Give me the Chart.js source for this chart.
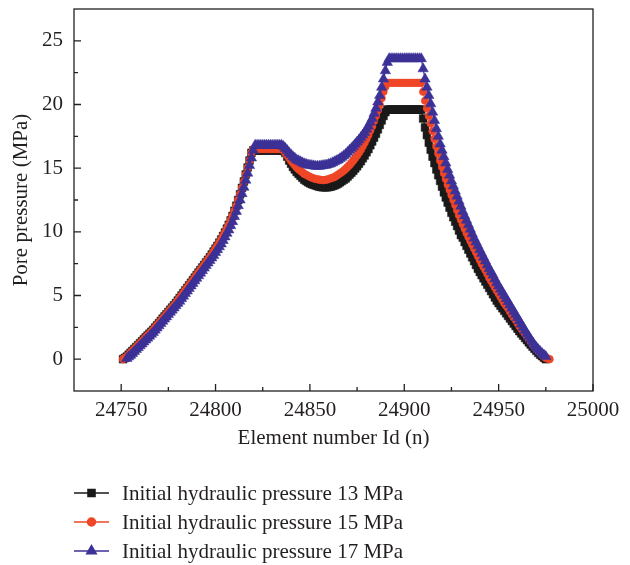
<!DOCTYPE html>
<html>
<head>
<meta charset="utf-8">
<title>Pore pressure</title>
<script src="https://cdn.jsdelivr.net/npm/chart.js@4.4.1/dist/chart.umd.min.js"></script>
<style>
  html, body { margin: 0; padding: 0; background: #fff; }
  #wrap { width: 630px; height: 565px; }
</style>
</head>
<body>
<div id="wrap"><canvas id="poreChart"></canvas></div>
<script>
// element ids along the section
const elementIds = [
  24751,24752,24753,24754,24755,24756,24757,24758,24759,24760,
  24761,24762,24763,24764,24765,24766,24767,24768,24769,24770,
  24771,24772,24773,24774,24775,24776,24777,24778,24779,24780,
  24781,24782,24783,24784,24785,24786,24787,24788,24789,24790,
  24791,24792,24793,24794,24795,24796,24797,24798,24799,24800,
  24801,24802,24803,24804,24805,24806,24807,24808,24809,24810,
  24811,24812,24813,24814,24815,24816,24817,24818,24819,24820,
  24821,24822,24823,24824,24825,24826,24827,24828,24829,24830,
  24831,24832,24833,24834,24835,24836,24837,24838,24839,24840,
  24841,24842,24843,24844,24845,24846,24847,24848,24849,24850,
  24851,24852,24853,24854,24855,24856,24857,24858,24859,24860,
  24861,24862,24863,24864,24865,24866,24867,24868,24869,24870,
  24871,24872,24873,24874,24875,24876,24877,24878,24879,24880,
  24881,24882,24883,24884,24885,24886,24887,24888,24889,24890,
  24891,24892,24893,24894,24895,24896,24897,24898,24899,24900,
  24901,24902,24903,24904,24905,24906,24907,24908,24909,24910,
  24911,24912,24913,24914,24915,24916,24917,24918,24919,24920,
  24921,24922,24923,24924,24925,24926,24927,24928,24929,24930,
  24931,24932,24933,24934,24935,24936,24937,24938,24939,24940,
  24941,24942,24943,24944,24945,24946,24947,24948,24949,24950,
  24951,24952,24953,24954,24955,24956,24957,24958,24959,24960,
  24961,24962,24963,24964,24965,24966,24967,24968,24969,24970,
  24971,24972,24973,24974,24975,24976,24977
];

// pore pressure (MPa), initial hydraulic pressure 13 MPa
const p13 = [
  0, 0.1, 0.2, 0.35, 0.5, 0.65, 0.8, 0.95, 1.1, 1.25,
  1.4, 1.55, 1.7, 1.85, 2.0, 2.15, 2.3, 2.48, 2.65, 2.82,
  3.0, 3.18, 3.35, 3.52, 3.7, 3.88, 4.05, 4.22, 4.4, 4.6,
  4.8, 5.0, 5.2, 5.4, 5.6, 5.8, 6.0, 6.2, 6.4, 6.6,
  6.8, 7.0, 7.2, 7.4, 7.6, 7.8, 8.0, 8.22, 8.45, 8.68,
  8.9, 9.15, 9.4, 9.68, 9.95, 10.25, 10.55, 10.9, 11.25, 11.65,
  12.05, 12.5, 12.95, 13.45, 13.95, 14.5, 15.05, 15.6, 16.2, 16.4,
  16.4, 16.4, 16.4, 16.4, 16.4, 16.4, 16.4, 16.4, 16.4, 16.4,
  16.4, 16.4, 16.4, 16.4, 16.4, 16.35, 16.2, 15.9, 15.6, 15.35,
  15.1, 14.9, 14.7, 14.55, 14.4, 14.25, 14.1, 14.0, 13.9, 13.82,
  13.75, 13.7, 13.65, 13.6, 13.55, 13.52, 13.5, 13.5, 13.5, 13.52,
  13.55, 13.6, 13.65, 13.72, 13.8, 13.9, 14.0, 14.1, 14.2, 14.35,
  14.5, 14.65, 14.8, 14.98, 15.15, 15.35, 15.55, 15.78, 16.0, 16.25,
  16.5, 16.8, 17.1, 17.4, 17.7, 18.05, 18.4, 18.75, 19.1, 19.4,
  19.6, 19.6, 19.6, 19.6, 19.6, 19.6, 19.6, 19.6, 19.6, 19.6,
  19.6, 19.6, 19.6, 19.6, 19.6, 19.6, 19.6, 19.6, 19.6, 18.9,
  18.2, 17.6, 17.0, 16.45, 15.9, 15.4, 14.9, 14.45, 14.0, 13.55,
  13.1, 12.7, 12.3, 11.9, 11.5, 11.15, 10.8, 10.45, 10.1, 9.75,
  9.55, 9.2, 8.9, 8.6, 8.3, 8.0, 7.7, 7.4, 7.1, 6.85,
  6.6, 6.35, 6.1, 5.85, 5.6, 5.35, 5.1, 4.85, 4.6, 4.4,
  4.2, 4.0, 3.8, 3.6, 3.4, 3.2, 3.0, 2.8, 2.6, 2.4,
  2.2, 2.02, 1.85, 1.67, 1.5, 1.32, 1.15, 0.98, 0.82, 0.66,
  0.5, 0.36, 0.24, 0.12, 0.0, null, null
];

// initial hydraulic pressure 15 MPa
const p15 = [
  0, 0.1, 0.2, 0.35, 0.5, 0.65, 0.8, 0.95, 1.1, 1.25,
  1.4, 1.55, 1.7, 1.85, 2.0, 2.15, 2.3, 2.48, 2.65, 2.82,
  3.0, 3.18, 3.35, 3.52, 3.7, 3.88, 4.05, 4.22, 4.4, 4.6,
  4.8, 5.0, 5.2, 5.4, 5.6, 5.8, 6.0, 6.2, 6.4, 6.6,
  6.8, 7.0, 7.2, 7.4, 7.6, 7.8, 8.0, 8.22, 8.45, 8.68,
  8.9, 9.15, 9.4, 9.68, 9.95, 10.25, 10.55, 10.9, 11.25, 11.65,
  12.05, 12.5, 12.95, 13.45, 13.95, 14.5, 15.05, 15.6, 16.2, 16.5,
  16.5, 16.5, 16.5, 16.5, 16.5, 16.5, 16.5, 16.5, 16.5, 16.5,
  16.5, 16.5, 16.5, 16.5, 16.5, 16.4, 16.2, 16.0, 15.8, 15.6,
  15.4, 15.22, 15.05, 14.92, 14.8, 14.68, 14.55, 14.48, 14.4, 14.32,
  14.25, 14.2, 14.15, 14.12, 14.1, 14.08, 14.05, 14.08, 14.1, 14.15,
  14.2, 14.25, 14.3, 14.4, 14.5, 14.6, 14.7, 14.82, 14.95, 15.1,
  15.25, 15.42, 15.6, 15.8, 16.0, 16.22, 16.45, 16.72, 17.0, 17.3,
  17.6, 17.95, 18.3, 18.7, 19.1, 19.55, 20.0, 20.5, 21.0, 21.4,
  21.7, 21.7, 21.7, 21.7, 21.7, 21.7, 21.7, 21.7, 21.7, 21.7,
  21.7, 21.7, 21.7, 21.7, 21.7, 21.7, 21.7, 21.7, 21.7, 21.0,
  20.3, 19.7, 19.1, 18.5, 17.9, 17.3, 16.7, 16.15, 15.6, 15.1,
  14.6, 14.15, 13.7, 13.3, 12.9, 12.5, 12.1, 11.7, 11.3, 10.95,
  10.6, 10.25, 9.9, 9.6, 9.3, 9.0, 8.7, 8.4, 8.1, 7.8,
  7.5, 7.25, 7.0, 6.7, 6.4, 6.15, 5.9, 5.65, 5.4, 5.15,
  4.9, 4.65, 4.4, 4.2, 4.0, 3.75, 3.5, 3.3, 3.1, 2.85,
  2.6, 2.4, 2.2, 2.0, 1.8, 1.6, 1.4, 1.2, 1.0, 0.82,
  0.65, 0.5, 0.35, 0.22, 0.1, 0.05, 0.0
];

// initial hydraulic pressure 17 MPa
const p17 = [
  null, null, 0.05, 0.18, 0.3, 0.45, 0.6, 0.75, 0.9, 1.05,
  1.2, 1.35, 1.5, 1.65, 1.8, 1.95, 2.1, 2.28, 2.45, 2.62,
  2.8, 2.98, 3.15, 3.32, 3.5, 3.68, 3.85, 4.02, 4.2, 4.38,
  4.55, 4.75, 4.95, 5.15, 5.35, 5.55, 5.75, 5.95, 6.15, 6.35,
  6.55, 6.75, 6.95, 7.15, 7.35, 7.55, 7.75, 7.95, 8.15, 8.38,
  8.6, 8.82, 9.05, 9.32, 9.6, 9.88, 10.15, 10.48, 10.8, 11.2,
  11.6, 12.05, 12.5, 13.0, 13.5, 14.05, 14.6, 15.2, 15.8, 16.4,
  16.8, 16.8, 16.8, 16.8, 16.8, 16.8, 16.8, 16.8, 16.8, 16.8,
  16.8, 16.8, 16.8, 16.8, 16.8, 16.7, 16.55, 16.38, 16.2, 16.05,
  15.9, 15.78, 15.65, 15.58, 15.5, 15.42, 15.35, 15.3, 15.25, 15.22,
  15.2, 15.18, 15.15, 15.15, 15.15, 15.18, 15.2, 15.22, 15.25, 15.3,
  15.35, 15.42, 15.5, 15.58, 15.65, 15.75, 15.85, 15.98, 16.1, 16.25,
  16.4, 16.55, 16.7, 16.88, 17.05, 17.22, 17.4, 17.6, 17.8, 18.05,
  18.3, 18.6, 18.9, 19.3, 19.7, 20.2, 20.7, 21.35, 22.0, 22.65,
  23.3, 23.6, 23.6, 23.6, 23.6, 23.6, 23.6, 23.6, 23.6, 23.6,
  23.6, 23.6, 23.6, 23.6, 23.6, 23.6, 23.6, 23.6, 23.6, 22.8,
  22.0, 21.35, 20.7, 20.05, 19.4, 18.75, 18.1, 17.5, 16.9, 16.4,
  15.9, 15.4, 14.9, 14.45, 14.0, 13.6, 13.2, 12.8, 12.4, 12.0,
  11.6, 11.25, 10.9, 10.55, 10.2, 9.85, 9.5, 9.2, 8.9, 8.6,
  8.3, 8.0, 7.7, 7.4, 7.1, 6.85, 6.6, 6.3, 6.0, 5.75,
  5.5, 5.25, 5.0, 4.75, 4.5, 4.25, 4.0, 3.75, 3.5, 3.25,
  3.0, 2.75, 2.5, 2.25, 2.0, 1.78, 1.55, 1.32, 1.1, 0.92,
  0.75, 0.6, 0.45, 0.32, 0.2, null, null
];

const seriesNames = [
  'Initial hydraulic pressure 13 MPa',
  'Initial hydraulic pressure 15 MPa',
  'Initial hydraulic pressure 17 MPa'
];

const xTickValues = [24750, 24800, 24850, 24900, 24950, 25000];
const yTickValues = [0, 5, 10, 15, 20, 25];

const serif = '"Liberation Serif", "Times New Roman", serif';
const fontSize = 21;
const ink = '#231f20';
const colors = ['#1a1a1a', '#ef4627', '#3b3196'];
const styles = ['rect', 'circle', 'triangle'];

function toPoints(values) {
  return elementIds
    .map((id, i) => ({ x: id, y: values[i] }))
    .filter(p => p.y !== null);
}

function makeSet(i, values, radius, order) {
  return {
    label: seriesNames[i],
    data: toPoints(values),
    showLine: true,
    borderColor: colors[i],
    borderWidth: 1.2,
    pointStyle: styles[i],
    pointRadius: radius,
    pointBackgroundColor: colors[i],
    pointBorderColor: colors[i],
    pointBorderWidth: 0.5,
    order: order
  };
}

// box round the plot + inward major/minor ticks
const framePlugin = {
  id: 'frame',
  afterDraw(chart) {
    const { ctx, chartArea: a, scales } = chart;
    const xs = scales.x, ys = scales.y;
    ctx.save();
    ctx.strokeStyle = ink;
    ctx.lineWidth = 1.3;
    ctx.strokeRect(a.left, a.top, a.right - a.left, a.bottom - a.top);
    ctx.beginPath();
    xs.ticks.forEach(t => {
      const px = xs.getPixelForValue(t.value);
      ctx.moveTo(px, a.bottom); ctx.lineTo(px, a.bottom - 7);
      const mx = xs.getPixelForValue(t.value - 25);
      if (mx > a.left + 1) { ctx.moveTo(mx, a.bottom); ctx.lineTo(mx, a.bottom - 4); }
    });
    ys.ticks.forEach(t => {
      const py = ys.getPixelForValue(t.value);
      ctx.moveTo(a.left, py); ctx.lineTo(a.left + 7, py);
      const my = ys.getPixelForValue(t.value + 2.5);
      if (my > a.top + 1) { ctx.moveTo(a.left, my); ctx.lineTo(a.left + 4, my); }
    });
    ctx.stroke();
    ctx.restore();
  }
};

// legend below the plot: line + marker + label
const legendPlugin = {
  id: 'lineLegend',
  afterDraw(chart) {
    const { ctx } = chart;
    const rows = [493, 522, 551];
    const radii = [5, 4, 5.5];
    ctx.save();
    ctx.font = fontSize + 'px ' + serif;
    ctx.textBaseline = 'middle';
    rows.forEach((y, i) => {
      ctx.strokeStyle = colors[i];
      ctx.fillStyle = colors[i];
      ctx.lineWidth = 1.5;
      ctx.beginPath();
      ctx.moveTo(74, y); ctx.lineTo(109, y);
      ctx.stroke();
      Chart.helpers.drawPoint(ctx, { pointStyle: styles[i], radius: radii[i], rotation: 0, borderWidth: 0.5 }, 91.5, y);
      ctx.fillStyle = ink;
      ctx.fillText(seriesNames[i], 122, y + 1);
    });
    ctx.restore();
  }
};

const ctx = document.getElementById('poreChart').getContext('2d');
new Chart(ctx, {
  type: 'scatter',
  data: {
    datasets: [
      makeSet(0, p13, 5.5, 2),
      makeSet(1, p15, 3.8, 1),
      makeSet(2, p17, 6, 0)
    ]
  },
  options: {
    responsive: true,
    maintainAspectRatio: false,
    animation: false,
    layout: { padding: { top: 9, right: 37, bottom: 114, left: 0 } },
    plugins: { legend: { display: false }, tooltip: { enabled: false } },
    scales: {
      x: {
        type: 'linear',
        min: 24725,
        max: 25000,
        grid: { display: false, drawTicks: false },
        border: { display: false },
        afterBuildTicks(s) { s.ticks = xTickValues.map(v => ({ value: v })); },
        ticks: {
          maxRotation: 0, padding: 7, autoSkip: false,
          color: ink, font: { family: serif, size: fontSize },
          callback: v => String(v)
        },
        title: {
          display: true, text: 'Element number Id (n)', color: ink,
          font: { family: serif, size: fontSize }, padding: { top: 0, bottom: 0 }
        },
        afterFit(s) { s.height = 60; s.paddingLeft = 0; s.paddingRight = 0; }
      },
      y: {
        min: -2.5,
        max: 27.5,
        grid: { display: false, drawTicks: false },
        border: { display: false },
        afterBuildTicks(s) { s.ticks = yTickValues.map(v => ({ value: v })); },
        ticks: {
          padding: 11, autoSkip: false,
          color: ink, font: { family: serif, size: fontSize },
          callback: v => String(v)
        },
        title: {
          display: true, text: 'Pore pressure (MPa)', color: ink,
          font: { family: serif, size: fontSize }, padding: { top: 9, bottom: 0 }
        },
        afterFit(s) { s.width = 74; s.paddingTop = 0; s.paddingBottom = 0; }
      }
    }
  },
  plugins: [framePlugin, legendPlugin]
});
</script>
</body>
</html>
